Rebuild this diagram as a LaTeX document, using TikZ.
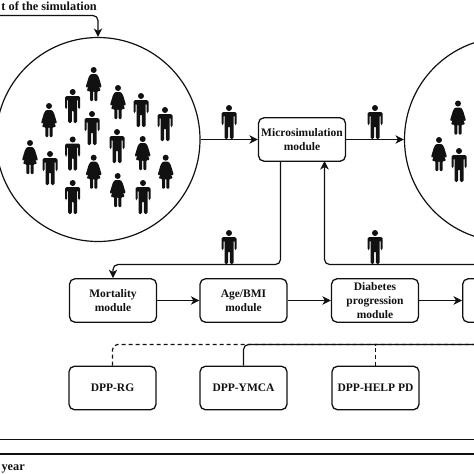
\documentclass[tikz,border=0pt]{standalone}
\usepackage{fontspec}
\setmainfont{Liberation Serif}
\usetikzlibrary{arrows.meta}
\definecolor{ink}{HTML}{111111}
\tikzset{
 x=1pt,y=-1pt,
 modbox/.style={draw=ink,line width=1.3pt,rounded corners=5.5pt,minimum width=87pt,minimum height=43.5pt,align=center,inner sep=0pt,font=\fontsize{11.5pt}{14pt}\selectfont\bfseries,text=ink},
 conn/.style={draw=ink,line width=1.2pt,rounded corners=5pt},
 arr/.style={conn,-{Stealth[length=8.5pt,width=8.5pt,inset=2.5pt]}},
 dashline/.style={conn,dash pattern=on 4pt off 3pt},
 popcircle/.style={draw=ink,line width=1.2pt,circle,minimum size=204pt,inner sep=0pt},
 lab/.style={font=\fontsize{12.3pt}{13pt}\selectfont\bfseries,text=ink,inner sep=0pt},
}
\newcommand{\man}[2]{\begin{scope}[shift={(#1,#2)}]
 \fill[ink] (0,-14) circle (3pt);
 \fill[ink,rounded corners=1.5pt] (-7.5,-10) -- (7.5,-10) -- (7.5,3) -- (5.5,3) -- (5.5,-7) -- (4.5,-7) -- (4.5,17) -- (0.8,17) -- (0.8,4) -- (-0.8,4) -- (-0.8,17) -- (-4.5,17) -- (-4.5,-7) -- (-5.5,-7) -- (-5.5,3) -- (-7.5,3) -- cycle;
\end{scope}}
\newcommand{\woman}[2]{\begin{scope}[shift={(#1,#2)}]
 \fill[ink] (0,-14) circle (3pt);
 \fill[ink,rounded corners=1pt] (-3,-10) -- (3,-10) -- (5,-7) -- (8,3) -- (6.3,4) -- (4,-1) -- (7,7) -- (3.6,7) -- (3.6,17) -- (0.7,17) -- (0.7,7) -- (-0.7,7) -- (-0.7,17) -- (-3.6,17) -- (-3.6,7) -- (-7,7) -- (-4,-1) -- (-6.3,4) -- (-8,3) -- (-5,-7) -- cycle;
\end{scope}}
\begin{document}
\begin{tikzpicture}
\useasboundingbox (0,0) rectangle (474,474);
\node[popcircle] (popA) at (98,139.5) {};
\node[popcircle] (popB) at (506.5,139.5) {};
\node[modbox] (micro) at (302,139.5) {Microsimulation\\module};
\node[modbox] (mort) at (113,300.5) {Mortality\\module};
\node[modbox] (age) at (243.5,300.5) {Age/BMI\\module};
\node[modbox] (diab) at (375,300.5) {Diabetes\\progression\\module};
\node[modbox,anchor=west] (next) at (462,300.5) {};
\node[modbox] (rg) at (112.5,388) {DPP-RG};
\node[modbox] (ymca) at (243.5,388) {DPP-YMCA};
\node[modbox] (help) at (375.5,388) {DPP-HELP PD};
\node[lab,anchor=base east] (start) at (97,10) {t of the simulation};
\node[lab,anchor=base east] (yr) at (25,470) {year};
\coordinate (startL) at (-2,15.5);
\coordinate (rtA) at (478,264.5);
\coordinate (dR) at (476,344.5);
\coordinate (a1) at (-2,439.5); \coordinate (a2) at (476,439.5);
\coordinate (b1) at (-2,454); \coordinate (b2) at (476,454);
\draw[arr] (startL) -| (popA.north);
\draw[arr] (popA.east) -- (micro.west);
\draw[arr] (micro.east) -- (popB.west);
\draw[arr] (280.5,161) -- (280.5,264.5) -- (113,264.5) -- (mort.north);
\draw[arr] (rtA) -- (324.5,264.5) -- (324.5,161);
\draw[arr] (mort) -- (age);
\draw[arr] (age) -- (diab);
\draw[arr] (diab) -- (next);
\draw[dashline] (rg.north) |- (dR);
\draw[dashline] (help.north) -- (375.5,344.5);
\draw[conn] (ymca.north) |- (dR);
\draw[draw=ink,line width=1.1pt] (a1) -- (a2);
\draw[draw=ink,line width=1.4pt] (b1) -- (b2);
\man{229}{122}
\man{375}{122}
\man{229}{247}
\man{375}{247}
\woman{93.7}{84} \man{72.7}{106} \woman{118}{102} \man{141}{110} \man{165}{124}
\woman{49}{120} \man{92}{128} \man{117}{146} \woman{142.7}{153} \man{72.7}{153.5}
\woman{30}{157} \man{50}{168} \woman{93.7}{171.7} \woman{165.7}{171.7}
\woman{117.7}{190} \man{72.7}{197} \man{143}{197}
\woman{458}{117.5} \woman{439}{154} \man{459}{165}
\end{tikzpicture}
\end{document}
